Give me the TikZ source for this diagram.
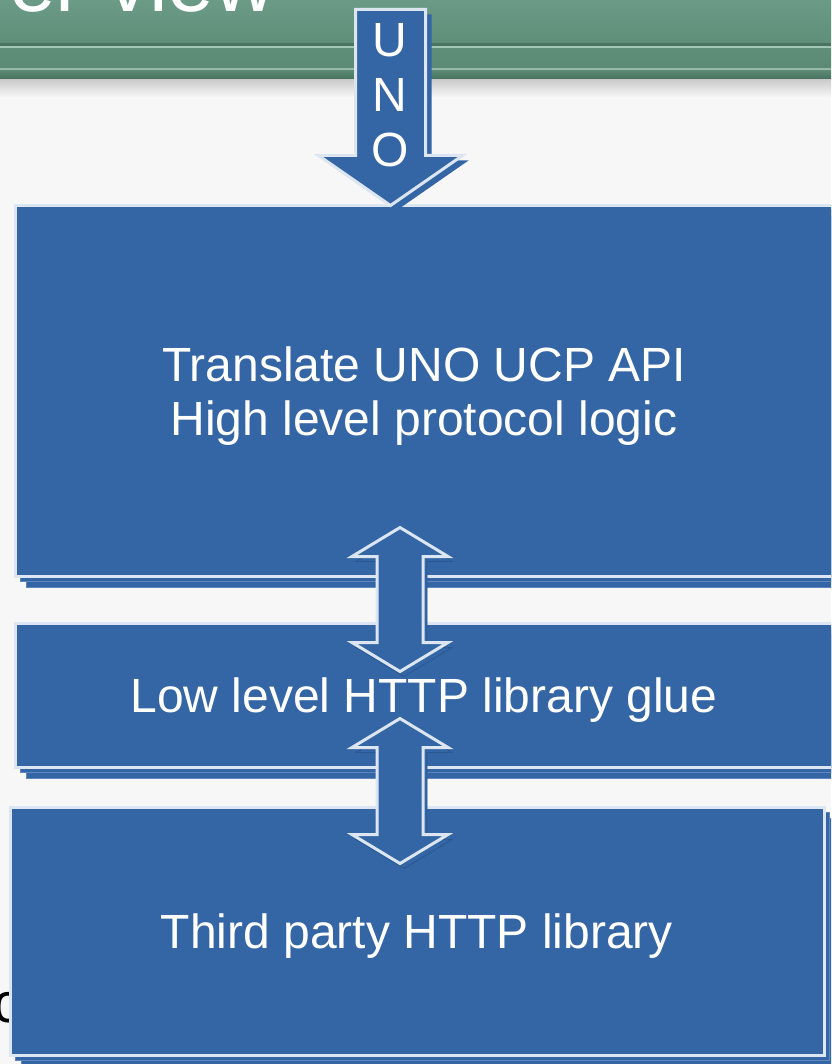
\documentclass[tikz,border=0pt]{standalone}
\usepackage{fontspec}
\setmainfont{Liberation Sans}
\usetikzlibrary{positioning, calc, shadows}

\definecolor{boxblue}{HTML}{3465A4}
\definecolor{boxedge}{HTML}{DCE6F2}
\definecolor{shadeline}{HTML}{5F87BD}
\definecolor{arrowshade}{HTML}{2B5791}
\definecolor{bandtop}{HTML}{6B9B86}
\definecolor{bandmid}{HTML}{5F8E79}
\definecolor{bandlow}{HTML}{5B8974}
\definecolor{banddark}{HTML}{456F5C}
\definecolor{bandline}{HTML}{4A7462}
\definecolor{bandlight}{HTML}{A3C7B5}
\definecolor{slidebg}{HTML}{F7F7F7}

\tikzset{
    box/.style={rectangle, draw=boxedge, line width=3pt, fill=boxblue, text=white,
        font=\fontsize{48}{54}\selectfont, align=center, inner sep=0pt, outer sep=0pt, text depth=0pt,
        copy shadow={shadow xshift=11pt, shadow yshift=-11pt, fill=boxblue, draw=shadeline, line width=1pt},
        copy shadow={shadow xshift=5pt, shadow yshift=-5pt, fill=boxblue, draw=shadeline, line width=1pt}}, % layer boxes
    blockarrow/.style={draw=boxedge, line width=3pt, fill=boxblue, line join=miter}, % fat arrows
    arrowshadow/.style={fill=boxblue, draw=arrowshade, line width=0.8pt},
}

\begin{document}
\begin{tikzpicture}[x=1pt, y=-1pt]
    \useasboundingbox (0,0) rectangle (831,1064);
    \clip (0,0) rectangle (831,1064);

    % Sfondo e banda del titolo
    \fill[slidebg] (0,0) rectangle (831,1064);
    \shade[top color=bandtop, bottom color=bandmid] (0,0) rectangle (831,44);
    \fill[bandline] (0,43) rectangle (831,46);
    \fill[bandlight] (0,46) rectangle (831,48.5);
    \shade[top color=bandmid, bottom color=bandlow] (0,48.5) rectangle (831,68.5);
    \fill[bandlight!80!bandlow] (0,68.5) rectangle (831,70.5);
    \shade[top color=bandlow, bottom color=banddark] (0,70.5) rectangle (831,80);
    \shade[top color=black!20, bottom color=slidebg] (0,80) rectangle (831,97);
    \node[anchor=base west, text=white, font=\fontsize{84}{90}\selectfont, inner sep=0pt] (title) at (9,11.5) {er view};
    \node[anchor=base west, font=\fontsize{56}{60}\selectfont, inner sep=0pt] (cut) at (-7,1022) {c};

    % Livelli
    \node[box, minimum width=817, minimum height=371] (trans) at (424,391) {Translate UNO UCP API\\High level protocol logic};
    \node[box, minimum width=817, minimum height=144, below=47pt of trans] (glue) {Low level HTTP library glue};
    \node[box, minimum width=814, minimum height=248, below=40pt of glue, xshift=-7pt] (lib) {Third party HTTP library};

    % Frecce
    \coordinate (unotip) at ($(trans.north)+(-33.5,0)$);
    \coordinate (up1) at ($(trans.south)+(-24,-49)$);
    \coordinate (down1) at ($(glue.north)+(-24,48)$);
    \coordinate (up2) at ($(glue.south)+(-24,-49)$);
    \coordinate (down2) at ($(lib.north)+(-17,56)$);

    \foreach \a/\b in {up1/down1, up2/down2} {
        \draw[blockarrow, copy shadow={shadow xshift=4pt, shadow yshift=-5pt, arrowshadow}]
            (\a) -- ++(48,29) -- ++(-25,0) -- ($(\b)+(23,-29)$) -- ++(25,0) -- (\b)
            -- ++(-48,-29) -- ++(25,0) -- ($(\a)+(-23,29)$) -- ++(-25,0) -- cycle;
    }

    \draw[blockarrow, copy shadow={shadow xshift=6pt, shadow yshift=-5pt, fill=boxblue, draw=none}]
        (unotip) -- ++(-72,-50) -- ++(37,0) -- ++(0,-146) -- ++(70,0) -- ++(0,146) -- ++(37,0) -- cycle;
    \node[text=white, font=\fontsize{48}{55}\selectfont, align=center, inner sep=0pt] (uno) at (390,95) {U\\N\\O};
\end{tikzpicture}
\end{document}
